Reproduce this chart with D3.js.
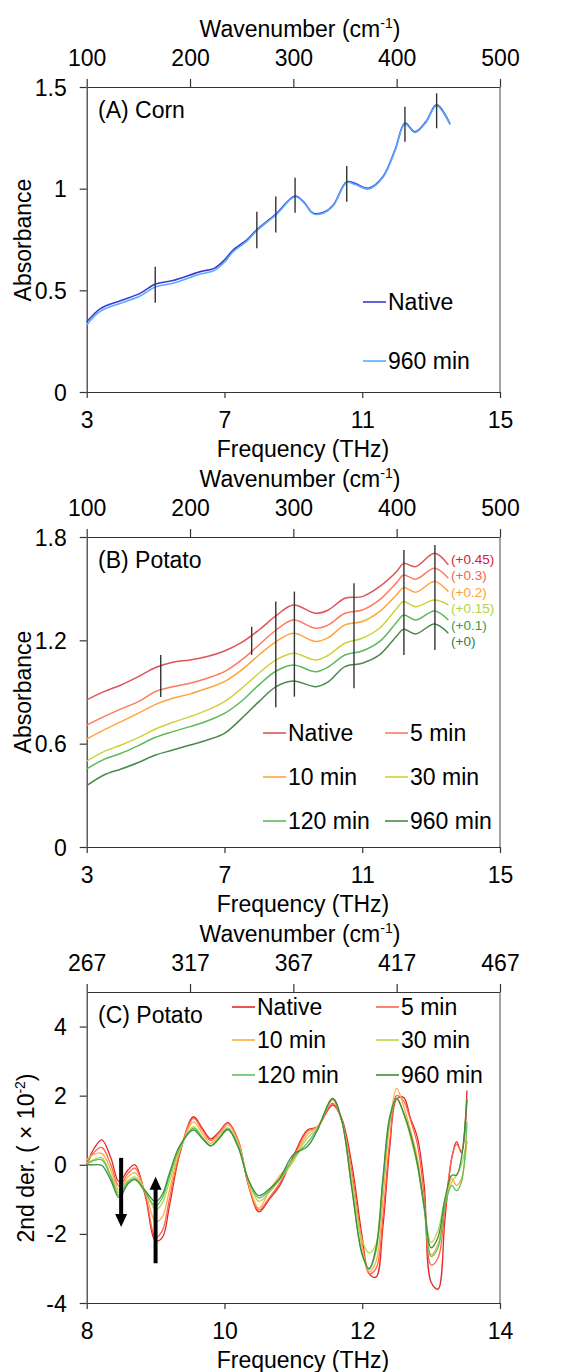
<!DOCTYPE html>
<html>
<head>
<meta charset="utf-8">
<script src="https://d3js.org/d3.v7.min.js"></script>
<style>
  body { margin: 0; background: #fff; }
  svg text { font-family: "Liberation Sans", Arial, sans-serif; fill: #000; }
</style>
</head>
<body>
<div id="chart"></div>
<script>
// ---- (A) Corn ----
const freqA = [3.0, 3.4, 4.0, 4.55, 5.0, 5.5, 6.3, 6.7, 7.0, 7.25, 7.65, 7.95, 8.5, 9.05, 9.3, 9.58, 9.9, 10.16, 10.55, 10.8, 11.18, 11.6, 11.95, 12.24, 12.53, 12.85, 13.16, 13.55];
const cornNative = [0.344, 0.41, 0.45, 0.485, 0.531, 0.548, 0.592, 0.608, 0.649, 0.698, 0.748, 0.80, 0.876, 0.964, 0.935, 0.879, 0.885, 0.92, 1.034, 1.025, 1.002, 1.059, 1.19, 1.322, 1.28, 1.33, 1.412, 1.318];
const corn960 = [0.33, 0.398, 0.438, 0.472, 0.517, 0.535, 0.58, 0.597, 0.638, 0.69, 0.742, 0.795, 0.872, 0.96, 0.932, 0.876, 0.882, 0.916, 1.03, 1.02, 0.998, 1.055, 1.185, 1.318, 1.276, 1.326, 1.408, 1.315];
const cornMarks = [[4.99, 0.439, 0.616], [7.94, 0.707, 0.887], [8.49, 0.785, 0.961], [9.05, 0.882, 1.054], [10.55, 0.936, 1.112], [12.24, 1.231, 1.403], [13.16, 1.297, 1.469]];

// ---- (B) Potato absorbance (offset curves) ----
const freqB = [3, 3.5, 4, 4.5, 5, 5.5, 6, 6.5, 7, 7.5, 8, 8.5, 9, 9.65, 10, 10.5, 11, 11.5, 12, 12.2, 12.55, 13.1, 13.5];
const potNative = [0.854, 0.902, 0.941, 0.989, 1.042, 1.073, 1.086, 1.106, 1.138, 1.188, 1.26, 1.343, 1.405, 1.357, 1.375, 1.444, 1.454, 1.512, 1.60, 1.647, 1.628, 1.706, 1.638];
const pot5 = [0.708, 0.757, 0.802, 0.844, 0.902, 0.931, 0.951, 0.98, 1.018, 1.086, 1.173, 1.26, 1.318, 1.27, 1.288, 1.357, 1.376, 1.435, 1.535, 1.579, 1.555, 1.618, 1.56];
const pot10 = [0.627, 0.68, 0.728, 0.777, 0.828, 0.864, 0.889, 0.922, 0.96, 1.028, 1.115, 1.193, 1.241, 1.193, 1.214, 1.29, 1.309, 1.367, 1.465, 1.506, 1.479, 1.541, 1.483];
const pot30 = [0.499, 0.554, 0.592, 0.635, 0.685, 0.724, 0.757, 0.795, 0.844, 0.921, 1.009, 1.086, 1.125, 1.086, 1.112, 1.183, 1.212, 1.27, 1.385, 1.425, 1.395, 1.434, 1.405];
const pot120 = [0.453, 0.509, 0.544, 0.589, 0.637, 0.67, 0.699, 0.732, 0.776, 0.848, 0.941, 1.022, 1.057, 1.018, 1.044, 1.115, 1.138, 1.192, 1.305, 1.347, 1.318, 1.37, 1.318];
const pot960 = [0.356, 0.418, 0.453, 0.491, 0.534, 0.563, 0.592, 0.621, 0.66, 0.747, 0.844, 0.931, 0.964, 0.931, 0.957, 1.047, 1.067, 1.115, 1.225, 1.264, 1.237, 1.295, 1.241];
const potMarks = [[5.15, 0.871, 1.115], [7.79, 1.115, 1.279], [8.49, 0.811, 1.425], [9.03, 0.873, 1.483], [10.76, 0.922, 1.531], [12.21, 1.115, 1.725], [13.11, 1.144, 1.754]];
const offsetLabels = ['(+0.45)', '(+0.3)', '(+0.2)', '(+0.15)', '(+0.1)', '(+0)'];

// ---- (C) Potato 2nd derivative ----
const freqC = [8.0, 8.1, 8.22, 8.35, 8.47, 8.6, 8.7, 8.85, 9.0, 9.1, 9.2, 9.35, 9.55, 9.68, 9.8, 9.92, 10.05, 10.2, 10.35, 10.5, 10.65, 10.8, 11.0, 11.2, 11.35, 11.57, 11.7, 11.85, 12.0, 12.1, 12.2, 12.3, 12.4, 12.5, 12.6, 12.7, 12.8, 12.9, 13.0, 13.1, 13.2, 13.3, 13.37, 13.44, 13.52];
const derNative = [0.0, 0.45, 0.72, 0.2, -0.49, -0.15, 0.0, -0.9, -2.2, -2.1, -1.2, 0.3, 1.39, 1.05, 0.75, 0.95, 1.22, 0.7, -0.6, -1.36, -1.0, -0.61, 0.25, 1.0, 1.1, 1.73, 1.35, 0.0, -2.1, -3.15, -3.25, -1.8, 0.5, 1.9, 1.95, 1.35, 0.8, -0.6, -3.4, -3.6, -1.6, 0.2, 0.67, 0.35, 2.15];
const der5 = [0.02, 0.35, 0.5, 0.0, -0.62, -0.25, -0.1, -0.85, -2.1, -1.9, -1.0, 0.35, 1.34, 1.0, 0.7, 0.92, 1.2, 0.7, -0.6, -1.31, -0.95, -0.54, 0.2, 0.96, 1.1, 1.78, 1.3, -0.2, -2.3, -3.15, -3.0, -1.5, 0.7, 2.0, 1.85, 1.3, 0.6, -0.9, -2.9, -2.7, -1.3, 0.2, 0.6, 0.4, 1.9];
const der10 = [0.14, 0.3, 0.33, -0.15, -0.74, -0.35, -0.23, -0.8, -1.65, -1.5, -0.75, 0.4, 1.24, 0.9, 0.62, 0.85, 1.15, 0.65, -0.55, -1.26, -0.75, -0.32, 0.15, 0.87, 1.1, 1.87, 1.3, -0.4, -2.4, -3.1, -2.8, -1.0, 1.2, 2.21, 1.7, 1.0, 0.2, -1.2, -2.6, -2.3, -1.2, -0.4, -0.6, -0.4, 0.7];
const der30 = [0.05, 0.15, 0.2, -0.3, -0.81, -0.45, -0.35, -0.75, -1.3, -1.1, -0.5, 0.45, 1.1, 0.8, 0.55, 0.75, 1.02, 0.55, -0.45, -1.06, -0.8, -0.43, 0.1, 0.77, 1.05, 1.89, 1.3, -0.5, -2.2, -2.55, -2.3, -0.6, 1.3, 1.9, 1.5, 0.8, 0.0, -1.2, -2.25, -1.9, -1.0, -0.5, -0.3, 0.0, 0.67];
const der120 = [0.02, 0.12, 0.14, -0.35, -0.89, -0.5, -0.4, -0.8, -1.19, -0.95, -0.35, 0.5, 1.05, 0.78, 0.55, 0.78, 1.07, 0.55, -0.45, -0.96, -0.75, -0.43, 0.2, 0.62, 1.05, 1.9, 1.3, -0.7, -2.6, -3.03, -2.5, -0.5, 1.3, 1.92, 1.5, 0.87, 0.0, -1.3, -2.65, -2.4, -1.2, -0.6, -0.75, -0.5, 1.25];
const der960 = [0.0, 0.0, -0.02, -0.45, -0.95, -0.55, -0.43, -0.75, -1.07, -0.85, -0.25, 0.55, 1.0, 0.75, 0.55, 0.75, 1.02, 0.5, -0.45, -0.89, -0.7, -0.4, 0.3, 0.52, 1.0, 1.92, 1.3, -0.7, -2.6, -3.0, -2.4, -0.4, 1.4, 1.92, 1.5, 0.9, 0.05, -1.2, -2.4, -2.1, -1.0, -0.3, -0.3, 0.2, 1.9];
const arrows = [{ f: 8.5, from: 0.2, to: -1.8 }, { f: 9.0, from: -2.85, to: -0.35 }];

const width = 563, height = 1372;
const L = 86.7, R = 500;
const fs = 23;
const font = '"Liberation Sans", Arial, sans-serif';

const svg = d3.select('#chart').append('svg')
    .attr('width', width)
    .attr('height', height);

function supText(sel, x, y, main, sup, tail, rotate) {
    const t = sel.append('text')
        .attr('x', x).attr('y', y)
        .attr('text-anchor', 'middle')
        .attr('font-size', fs);
    if (rotate) t.attr('transform', `rotate(-90,${x},${y})`);
    t.append('tspan').text(main);
    t.append('tspan').attr('font-size', 14).attr('dy', -9).text(sup);
    t.append('tspan').attr('dy', 9).text(tail);
    return t;
}

// one panel: frame, 3 axes, titles
function panel(cfg) {
    const g = svg.append('g');
    const x = d3.scaleLinear().domain(cfg.xDomain).range([L, R]);
    const xTop = d3.scaleLinear().domain(cfg.topDomain).range([L, R]);
    const y = d3.scaleLinear().domain(cfg.yDomain).range([cfg.bottom, cfg.top]);

    const bottomAxis = g.append('g')
        .attr('transform', `translate(0,${cfg.bottom})`)
        .call(d3.axisBottom(x).tickValues(cfg.xTicks).tickSize(6).tickSizeOuter(0).tickFormat(d3.format('d')));
    bottomAxis.selectAll('text').attr('y', 36).attr('dy', 0);

    const topAxis = g.append('g')
        .attr('transform', `translate(0,${cfg.top})`)
        .call(d3.axisTop(xTop).tickValues(cfg.topTicks).tickSize(8).tickSizeOuter(0).tickFormat(d3.format('d')));
    topAxis.selectAll('text').attr('y', -21).attr('dy', 0);

    const leftAxis = g.append('g')
        .attr('transform', `translate(${L},0)`)
        .call(d3.axisLeft(y).tickValues(cfg.yTicks).tickSize(7).tickSizeOuter(0).tickFormat(cfg.yFormat));
    leftAxis.selectAll('text').attr('x', -20).attr('dy', '0.35em');

    [bottomAxis, topAxis, leftAxis].forEach(a => {
        a.attr('font-size', fs).attr('font-family', font);
        a.selectAll('path,line').attr('stroke', '#333').attr('stroke-width', 1.2);
    });

    g.append('line')
        .attr('x1', R).attr('x2', R)
        .attr('y1', cfg.top).attr('y2', cfg.bottom)
        .attr('stroke', '#666').attr('stroke-width', 1.2);

    supText(g, 300, cfg.top - 50, 'Wavenumber (cm', '-1', ')');
    g.append('text')
        .attr('x', 303).attr('y', cfg.bottom + 65)
        .attr('text-anchor', 'middle').attr('font-size', fs)
        .text('Frequency (THz)');

    g.append('text')
        .attr('x', 98).attr('y', cfg.top + 31)
        .attr('font-size', fs)
        .text(cfg.label);

    return { g, x, y };
}

function drawLines(p, freq, series, colors, width) {
    const line = d3.line()
        .x((d, i) => p.x(freq[i]))
        .y(d => p.y(d))
        .curve(d3.curveCatmullRom.alpha(0.5));
    p.g.selectAll(null)
        .data(series)
        .enter()
        .append('path')
        .attr('d', d => line(d))
        .attr('fill', 'none')
        .attr('stroke', (d, i) => colors[i])
        .attr('stroke-width', width);
}

function drawMarks(p, marks) {
    p.g.selectAll(null)
        .data(marks)
        .enter()
        .append('line')
        .attr('x1', d => p.x(d[0])).attr('x2', d => p.x(d[0]))
        .attr('y1', d => p.y(d[1])).attr('y2', d => p.y(d[2]))
        .attr('stroke', '#333')
        .attr('stroke-width', 1.4);
}

function drawLegend(p, names, colors, cols, rowY, colX) {
    const items = p.g.selectAll(null)
        .data(names)
        .enter()
        .append('g')
        .attr('transform', (d, i) => `translate(${colX[i % cols]},${rowY[Math.floor(i / cols)]})`);
    items.append('line')
        .attr('x1', 0).attr('x2', 23)
        .attr('stroke', (d, i) => colors[i])
        .attr('stroke-width', 1.6);
    items.append('text')
        .attr('x', 25).attr('y', 8)
        .attr('font-size', fs)
        .text(d => d);
}

// ---- panel A ----
const pA = panel({
    top: 87, bottom: 392,
    xDomain: [3, 15], xTicks: [3, 7, 11, 15],
    topDomain: [100, 500], topTicks: [100, 200, 300, 400, 500],
    yDomain: [0, 1.5], yTicks: [0, 0.5, 1, 1.5], yFormat: d3.format('~g'),
    label: '(A) Corn'
});
svg.append('text')
    .attr('transform', 'translate(31,240) rotate(-90)')
    .attr('text-anchor', 'middle').attr('font-size', fs)
    .text('Absorbance');
const colorsA = ['#3b3bd0', '#5aaaff'];
drawLines(pA, freqA, [cornNative, corn960], colorsA, 1.6);
drawMarks(pA, cornMarks);
drawLegend(pA, ['Native', '960 min'], colorsA, 1, [302, 361], [363]);

// ---- panel B ----
const pB = panel({
    top: 537, bottom: 847,
    xDomain: [3, 15], xTicks: [3, 7, 11, 15],
    topDomain: [100, 500], topTicks: [100, 200, 300, 400, 500],
    yDomain: [0, 1.8], yTicks: [0, 0.6, 1.2, 1.8], yFormat: d3.format('.1~f'),
    label: '(B) Potato'
});
svg.append('text')
    .attr('transform', 'translate(31,692) rotate(-90)')
    .attr('text-anchor', 'middle').attr('font-size', fs)
    .text('Absorbance');
const colorsB = ['#dc5555', '#ff7a5e', '#ffa53c', '#cdd23a', '#5bba5b', '#4b8a4b'];
const seriesB = [potNative, pot5, pot10, pot30, pot120, pot960];
drawLines(pB, freqB, seriesB, colorsB, 1.5);
drawMarks(pB, potMarks);
const labelColorsB = ['#d4203c', '#f26552', '#ff9e3d', '#b3d43f', '#2ea052', '#2f7d45'];
pB.g.selectAll(null)
    .data(offsetLabels)
    .enter()
    .append('text')
    .attr('x', 451)
    .attr('y', (d, i) => pB.y(potNative[potNative.length - 1]) - 1 + i * 16.4)
    .attr('font-size', 13.5)
    .style('fill', (d, i) => labelColorsB[i])
    .text(d => d);
drawLegend(pB, ['Native', '5 min', '10 min', '30 min', '120 min', '960 min'], colorsB, 2, [733, 777, 821], [263, 385]);

// ---- panel C ----
const pC = panel({
    top: 992, bottom: 1303,
    xDomain: [8, 14], xTicks: [8, 10, 12, 14],
    topDomain: [267, 467], topTicks: [267, 317, 367, 417, 467],
    yDomain: [-4, 5], yTicks: [-4, -2, 0, 2, 4], yFormat: d3.format('d'),
    label: '(C) Potato'
});
pC.g.selectAll('.tick text').text(function () { return this.textContent.replace('\u2212', '-'); });
supText(svg, 34, 1158, '2nd der. ( \u00d7 10', '-2', ')', true);
const colorsC = ['#e02a2a', '#ff6248', '#ffab45', '#b2d84c', '#5cc25c', '#3f8d3f'];
drawLines(pC, freqC, [derNative, der5, der10, der30, der120, der960], colorsC, 1.3);

const arrowG = pC.g.selectAll(null)
    .data(arrows)
    .enter()
    .append('g');
arrowG.append('line')
    .attr('x1', d => pC.x(d.f)).attr('x2', d => pC.x(d.f))
    .attr('y1', d => pC.y(d.from))
    .attr('y2', d => pC.y(d.to) + (d.to < d.from ? -10 : 10))
    .attr('stroke', '#000').attr('stroke-width', 4);
arrowG.append('path')
    .attr('d', d => {
        const x0 = pC.x(d.f), yt = pC.y(d.to), s = d.to < d.from ? -1 : 1;
        return `M${x0 - 6},${yt + s * 13}L${x0 + 6},${yt + s * 13}L${x0},${yt}Z`;
    })
    .attr('fill', '#000');

drawLegend(pC, ['Native', '5 min', '10 min', '30 min', '120 min', '960 min'], colorsC, 2, [1007, 1040, 1075], [232, 376]);
</script>
</body>
</html>
